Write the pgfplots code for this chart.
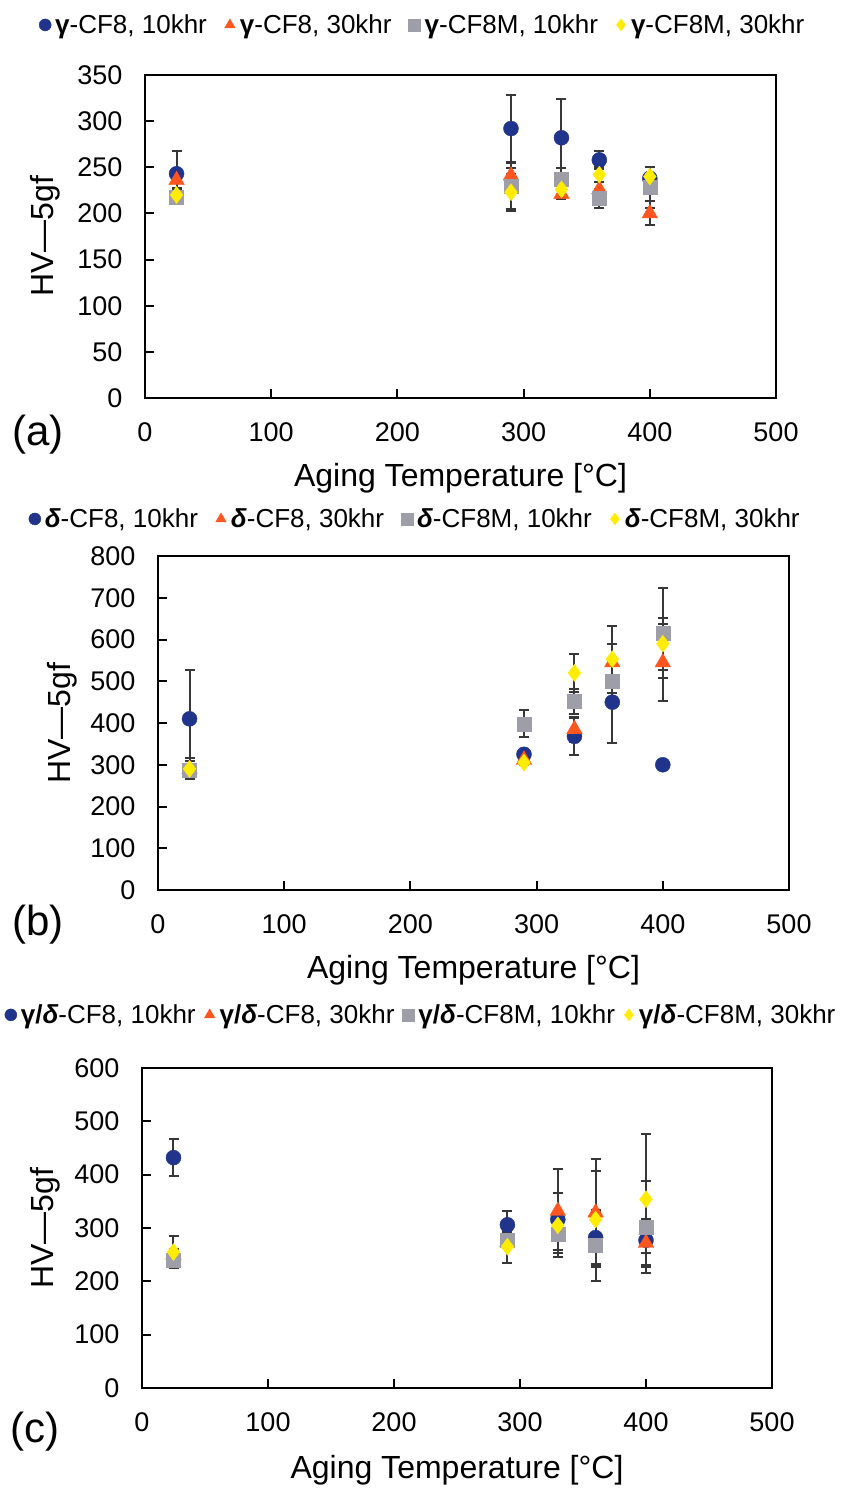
\documentclass[border=0pt]{standalone}
\usepackage{fontspec}
\setmainfont{Liberation Sans}
\usepackage{pgfplots}
\usepackage{pgfplotstable}
\pgfplotsset{compat=1.18}
\definecolor{cblue}{RGB}{33,52,140}
\definecolor{corange}{RGB}{255,85,30}
\definecolor{cgray}{RGB}{158,158,168}
\definecolor{cyellow}{RGB}{255,236,0}
\definecolor{cerr}{RGB}{55,55,55}

% x, blue (y,e), orange (y,e), gray (y,e), yellow (y,e)
\pgfplotstableread{
x   ya  ea   yb  eb   yc  ec   yd  ed
25  243 25   236 8    218 6    220 5
290 292 36   241 8    230 25   223 20
330 282 42   221 5    237 12   226 8
360 258 10   226 8    216 10   242 8
400 238 12   200 13   228 22   240 10
}\dataA
\pgfplotstableread{
x   ya  ea   yb  eb   yc  ec   yd  ed
25  410 117  290 10   288 20   290 25
290 325 5    312 5    398 32   305 5
330 368 45   385 30   452 30   520 45
360 450 97   545 45   500 40   553 80
400 300 0    545 93   615 108  590 62
}\dataB
\pgfplotstableread{
x   ya  ea   yb  eb   yc  ec   yd  ed
25  432 35   250 10   239 13   255 30
290 306 25   273 8    278 15   265 30
330 316 10   332 78   288 30   305 60
360 282 50   329 100  267 67   316 90
400 277 24   272 45   302 87   354 123
}\dataC

\pgfplotsset{
  panel/.style={
    scale only axis, width=631pt,
    xmin=0, xmax=500, ymin=0,
    xtick={0,100,...,500},
    axis line style={line width=2.2pt},
    every tick/.style={line width=2pt, black},
    major tick length=9pt,
    tick align=inside,
    xtick pos=bottom, ytick pos=left,
    /pgf/number format/assume math mode=true,
    tick label style={font=\fontsize{27}{27}\selectfont},
    xticklabel style={yshift=-21pt},
    yticklabel style={xshift=-19pt},
    label style={font=\fontsize{32}{32}\selectfont},
    ylabel={HV—5gf},
    xlabel={Aging Temperature [°C]},
    legend columns=4,
    legend cell align=left,
    legend style={draw=none, fill=none, inner sep=0pt, anchor=west,
      font=\fontsize{26}{26}\selectfont,
      nodes={inner sep=1pt},
      /tikz/every even column/.append style={column sep=16pt}},
    legend image code/.code={\path[draw=none, fill=none] (-6pt,-6pt) rectangle (9pt,6pt);\draw[##1, mark size=6pt] plot coordinates {(0pt,0pt)};},
    error bars/error bar style={line width=2pt, cerr},
    error bars/error mark options={rotate=90, mark size=5pt, line width=2pt, cerr},
  },
  sA/.style={only marks, mark=*, mark size=7.5pt, cblue, mark options={fill=cblue, draw=cblue}},
  sB/.style={only marks, mark=triangle*, mark size=9pt, corange, mark options={fill=corange, draw=corange}},
  sC/.style={only marks, mark=square*, mark size=7pt, cgray, mark options={fill=cgray, draw=cgray}},
  sD/.style={only marks, mark=diamond*, mark size=8.5pt, cyellow, mark options={fill=cyellow, draw=cyellow}},
}

\begin{document}
\begin{tikzpicture}
\useasboundingbox (0pt,0pt) rectangle (848pt,-1488pt);

% ---------------- (a)
\begin{axis}[panel, at={(145pt,-398pt)}, anchor=south west, height=323pt,
  ymax=350, ytick={0,50,...,350},
  ylabel style={at={(axis description cs:-0.158,0.5)}, anchor=center},
  xlabel style={at={(axis description cs:0.5,-0.248)}, anchor=center},
  legend style={at={(axis description cs:-0.168,1.155)}}]
\addplot+[sA, error bars/.cd, y dir=both, y explicit] table[x=x, y=ya, y error=ea] {\dataA};
\addlegendentry{{\bfseries γ}-CF8, 10khr}
\addplot+[sB, error bars/.cd, y dir=both, y explicit] table[x=x, y=yb, y error=eb] {\dataA};
\addlegendentry{{\bfseries γ}-CF8, 30khr}
\addplot+[sC, error bars/.cd, y dir=both, y explicit] table[x=x, y=yc, y error=ec] {\dataA};
\addlegendentry{{\bfseries γ}-CF8M, 10khr}
\addplot+[sD, error bars/.cd, y dir=both, y explicit] table[x=x, y=yd, y error=ed] {\dataA};
\addlegendentry{{\bfseries γ}-CF8M, 30khr}
\end{axis}
\node[font=\fontsize{42}{42}\selectfont] at (38pt,-435pt) {(a)};

% ---------------- (b)
\begin{axis}[panel, at={(158pt,-890pt)}, anchor=south west, height=334pt,
  ymax=800, ytick={0,100,...,800},
  ylabel style={at={(axis description cs:-0.152,0.5)}, anchor=center},
  xlabel style={at={(axis description cs:0.5,-0.24)}, anchor=center},
  legend style={at={(axis description cs:-0.205,1.111)}}]
\addplot+[sA, error bars/.cd, y dir=both, y explicit] table[x=x, y=ya, y error=ea] {\dataB};
\addlegendentry{{\bfseries\itshape δ}-CF8, 10khr}
\addplot+[sB, error bars/.cd, y dir=both, y explicit] table[x=x, y=yb, y error=eb] {\dataB};
\addlegendentry{{\bfseries\itshape δ}-CF8, 30khr}
\addplot+[sC, error bars/.cd, y dir=both, y explicit] table[x=x, y=yc, y error=ec] {\dataB};
\addlegendentry{{\bfseries\itshape δ}-CF8M, 10khr}
\addplot+[sD, error bars/.cd, y dir=both, y explicit] table[x=x, y=yd, y error=ed] {\dataB};
\addlegendentry{{\bfseries\itshape δ}-CF8M, 30khr}
\end{axis}
\node[font=\fontsize{42}{42}\selectfont] at (38pt,-925pt) {(b)};

% ---------------- (c)
\begin{axis}[panel, at={(142pt,-1388pt)}, anchor=south west, width=630pt, height=320pt,
  ymax=600, ytick={0,100,...,600},
  ylabel style={at={(axis description cs:-0.154,0.5)}, anchor=center},
  xlabel style={at={(axis description cs:0.5,-0.256)}, anchor=center},
  legend style={at={(axis description cs:-0.218,1.166)},
    /tikz/every even column/.append style={column sep=7pt}}]
\addplot+[sA, error bars/.cd, y dir=both, y explicit] table[x=x, y=ya, y error=ea] {\dataC};
\addlegendentry{{\bfseries γ/\itshape δ}-CF8, 10khr}
\addplot+[sB, error bars/.cd, y dir=both, y explicit] table[x=x, y=yb, y error=eb] {\dataC};
\addlegendentry{{\bfseries γ/\itshape δ}-CF8, 30khr}
\addplot+[sC, error bars/.cd, y dir=both, y explicit] table[x=x, y=yc, y error=ec] {\dataC};
\addlegendentry{{\bfseries γ/\itshape δ}-CF8M, 10khr}
\addplot+[sD, error bars/.cd, y dir=both, y explicit] table[x=x, y=yd, y error=ed] {\dataC};
\addlegendentry{{\bfseries γ/\itshape δ}-CF8M, 30khr}
\end{axis}
\node[font=\fontsize{42}{42}\selectfont] at (35pt,-1432pt) {(c)};
\end{tikzpicture}
\end{document}
